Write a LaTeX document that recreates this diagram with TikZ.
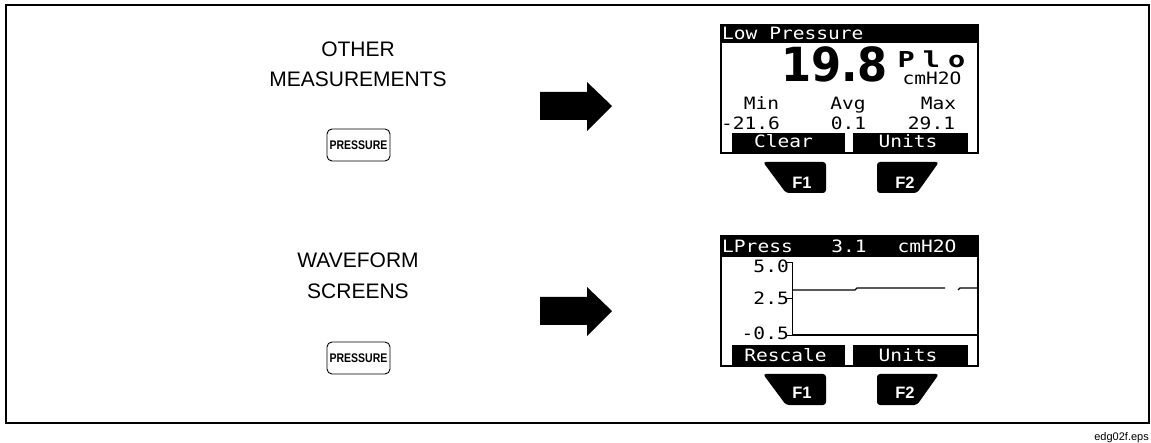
\documentclass[tikz,border=0pt]{standalone}
\usepackage{fontspec}
\setmainfont{Liberation Sans}
\newfontfamily\lcdfont[FakeStretch=1.15]{DejaVu Sans Mono}
\newfontfamily\plofont[FakeStretch=1.3]{DejaVu Sans Mono}
\newfontfamily\bigfont[FakeStretch=0.92]{DejaVu Sans}
\newfontfamily\keyfont[FakeStretch=0.84]{Liberation Sans}

\begin{document}
\begin{tikzpicture}[x=1pt, y=-1pt,
  lcd/.style={font=\lcdfont\fontsize{17}{17}\selectfont, inner sep=0pt, anchor=base},
  lcdinv/.style={lcd, text=white},
  caption/.style={font=\fontsize{21}{21}\selectfont, inner sep=0pt, anchor=base},
  presskey/.style={draw, rounded corners=5pt, line width=0.9pt, minimum width=63pt,
    minimum height=32pt, inner sep=0pt, font=\keyfont\bfseries\fontsize{12.5}{12.5}\selectfont},
  fkey/.style={fill=black, rounded corners=3pt},
  fkeylabel/.style={text=white, inner sep=0pt, font=\bfseries\fontsize{16.5}{16.5}\selectfont},
  screen/.style={draw, line width=2pt},
  softkey/.style={fill=black},
  trace/.style={line width=1.3pt}]

  \useasboundingbox (0,0) rectangle (1151,443);
  \draw[line width=2pt] (6,5) rectangle (1149,423);

  % left column
  \node[caption] (other) at (358,57) {OTHER};
  \node[caption] (measure) at (358,87) {MEASUREMENTS};
  \node[presskey] (press1) at (358.5,145) {PRESSURE};

  \node[caption] (wave) at (358,268) {WAVEFORM};
  \node[caption] (screens) at (358,298.5) {SCREENS};
  \node[presskey] (press2) at (358.5,358) {PRESSURE};

  % block arrows
  \foreach \dy in {0,205} {
    \fill[shift={(0,\dy)}] (540,92) -- (587,92) -- (587,82) -- (612,106)
      -- (587,131) -- (587,120) -- (540,120) -- cycle;
  }

  % first screen
  \fill (721,25) rectangle (978,43);
  \fill[softkey] (732,133) rectangle (845,153);
  \fill[softkey] (853,133) rectangle (968,153);
  \draw[screen] (721,25) rectangle (978,153);
  \node[lcdinv, anchor=base west] (title1) at (722,40) {Low Pressure};
  \node[inner sep=0pt, anchor=base, font=\bigfont\bfseries\fontsize{47}{47}\selectfont] (value) at (834.5,82) {19.8};
  \node[inner sep=0pt, anchor=base, font=\plofont\bfseries\fontsize{22}{22}\selectfont] (plo) at (931.5,68) {P\kern8pt l\kern8pt o};
  \node[lcd] (unit1) at (932,85) {cmH2O};
  \node[lcd] (min) at (761.5,110) {Min};
  \node[lcd] (avg) at (848,110) {Avg};
  \node[lcd] (max) at (938.5,110) {Max};
  \node[lcd] (minval) at (750.5,130) {-21.6};
  \node[lcd] (avgval) at (848.5,130) {0.1};
  \node[lcd] (maxval) at (931.5,130) {29.1};
  \node[lcdinv] (clear) at (783.5,148) {Clear};
  \node[lcdinv] (units1) at (908,148) {Units};

  % second screen
  \fill (721,236) rectangle (978,257);
  \fill[softkey] (732,345) rectangle (845,366);
  \fill[softkey] (853,345) rectangle (968,366);
  \draw[screen] (721,236) rectangle (978,366);
  \node[lcdinv, anchor=base west] (title2) at (722,253) {LPress};
  \node[lcdinv] (reading) at (849,253) {3.1};
  \node[lcdinv] (unit2) at (927,253) {cmH2O};
  \node[lcd, anchor=base east] (ytop) at (789,273) {5.0};
  \node[lcd, anchor=base east] (ymid) at (789,305) {2.5};
  \node[lcd, anchor=base east] (ybot) at (789,340) {-0.5};
  \draw[line width=1pt] (787,263) -- (792,263) -- (792,335.5) -- (787,335.5);
  \draw[line width=1pt] (787,299) -- (792,299);
  \draw[line width=1.2pt] (792,335) -- (977,335);
  \draw[trace] (792,290) -- (855,290) -- (857,288) -- (945,288);
  \draw[trace] (958,290) -- (960,288) -- (977,288);
  \node[lcdinv] (rescale) at (785.5,362) {Rescale};
  \node[lcdinv] (units2) at (908,362) {Units};

  % function keys
  \foreach \dy in {0,212} {
    \fill[fkey, shift={(0,\dy)}] (763,162) -- (826,162) -- (826,193) -- (786,193) -- cycle;
    \fill[fkey, shift={(0,\dy)}] (877,162) -- (939,162) -- (917,193) -- (877,193) -- cycle;
  }
  \node[fkeylabel] (fa1) at (802,182.5) {F1};
  \node[fkeylabel] (fa2) at (905,182.5) {F2};
  \node[fkeylabel] (fb1) at (802,393) {F1};
  \node[fkeylabel] (fb2) at (905,393) {F2};

  \node[font=\fontsize{11}{11}\selectfont, inner sep=0pt, anchor=base east] (fname) at (1149,440) {edg02f.eps};
\end{tikzpicture}
\end{document}
